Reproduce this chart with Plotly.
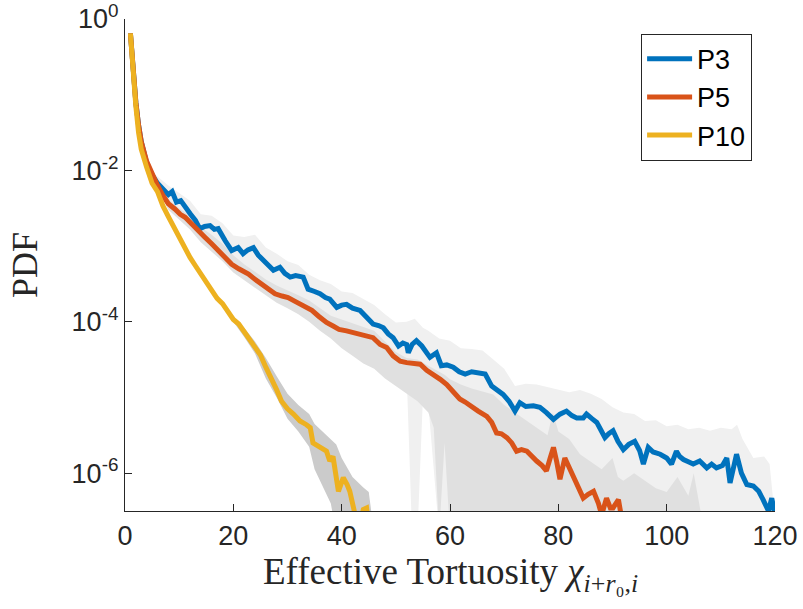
import numpy as np
import plotly.graph_objects as go

# ---------------- data (PDF given as log10) ----------------
x_p3 = [1.0, 1.2, 1.5, 2.0, 2.5, 3.0, 4.0, 5.0, 6.0, 7.0, 8.0, 8.7, 9.5, 10.3, 11.2, 12.0, 13.0, 13.8,
        14.7, 15.7, 16.5, 17.2, 18.5, 19.7, 20.9, 21.8, 22.7, 23.7, 24.6, 25.5, 26.5, 27.4, 28.6, 29.5,
        30.5, 31.5, 32.9, 33.8, 35.0, 36.0, 37.0, 37.8, 39.1, 40.0, 40.9, 42.0, 43.4, 44.5, 45.8, 46.8,
        47.7, 48.6, 49.5, 50.5, 51.3, 52.0, 52.3, 53.0, 53.8, 54.8, 55.5, 56.3, 57.5, 58.4, 59.4, 60.6,
        61.7, 62.8, 64.0, 65.2, 66.5, 67.7, 68.7, 69.8, 70.9, 72.0, 72.9, 74.0, 75.4, 76.6, 77.8, 79.1,
        80.3, 81.5, 82.5, 83.4, 84.6, 85.2, 86.2, 87.1, 88.0, 88.6, 89.3, 90.1, 91.0, 92.0, 93.0, 94.1,
        95.0, 95.7, 96.6, 97.5, 98.8, 100.0, 100.9, 101.8, 102.4, 103.1, 104.0, 104.9, 106.1, 107.4,
        108.3, 109.2, 110.3, 111.1, 111.7, 112.3, 112.9, 113.8, 114.8, 116.0, 117.0, 117.8, 118.8,
        119.4, 120.0]
log_p3 = [-0.19, -0.38, -0.80, -1.10, -1.40, -1.62, -1.90, -2.06, -2.17, -2.24, -2.32, -2.28, -2.42,
          -2.40, -2.50, -2.57, -2.66, -2.77, -2.74, -2.73, -2.78, -2.77, -2.93, -3.06, -3.02, -3.10,
          -3.05, -3.02, -3.12, -3.19, -3.26, -3.32, -3.28, -3.36, -3.41, -3.39, -3.41, -3.57, -3.60,
          -3.63, -3.68, -3.70, -3.81, -3.78, -3.77, -3.82, -3.85, -3.94, -4.03, -4.05, -4.08, -4.16,
          -4.21, -4.32, -4.28, -4.30, -4.41, -4.30, -4.25, -4.32, -4.38, -4.47, -4.41, -4.58, -4.57,
          -4.60, -4.66, -4.69, -4.66, -4.68, -4.69, -4.85, -4.90, -4.96, -5.05, -5.18, -5.07, -5.12,
          -5.11, -5.13, -5.20, -5.29, -5.22, -5.18, -5.24, -5.27, -5.27, -5.22, -5.28, -5.33, -5.45,
          -5.53, -5.48, -5.44, -5.58, -5.69, -5.62, -5.58, -5.70, -5.88, -5.66, -5.72, -5.75, -5.80,
          -5.88, -5.71, -5.78, -5.82, -5.85, -5.88, -5.84, -5.93, -5.88, -5.93, -5.90, -5.80, -6.13,
          -5.95, -5.75, -6.00, -6.15, -6.17, -6.24, -6.35, -6.50, -6.33, -6.55]

x_p5 = [1.0, 1.2, 1.5, 2.0, 2.5, 3.0, 4.0, 5.0, 6.0, 7.0, 8.0, 9.2, 10.2, 11.1, 12.3, 13.5, 14.7, 16.0,
        17.0, 17.9, 19.7, 21.0, 22.8, 24.0, 25.2, 26.5, 27.7, 29.0, 30.1, 31.4, 32.6, 33.5, 34.5, 35.8,
        37.2, 38.5, 39.5, 40.9, 42.2, 43.4, 44.6, 45.8, 47.1, 48.3, 49.5, 50.8, 52.0, 53.3, 54.5, 55.7,
        56.9, 58.2, 59.4, 60.6, 61.8, 62.8, 63.7, 65.2, 66.8, 67.7, 68.6, 69.5, 70.5, 71.4, 72.3, 73.2,
        74.2, 75.1, 76.0, 77.0, 77.8, 78.5, 79.1, 79.7, 80.3, 81.2, 81.8, 82.4, 83.5, 84.6, 85.5, 86.5,
        87.4, 88.0, 88.9, 89.6, 90.1, 91.1, 91.7]
log_p5 = [-0.19, -0.38, -0.80, -1.10, -1.40, -1.62, -1.88, -2.06, -2.20, -2.33, -2.44, -2.51, -2.58,
          -2.62, -2.70, -2.79, -2.88, -2.97, -3.04, -3.10, -3.24, -3.30, -3.37, -3.44, -3.50, -3.57,
          -3.63, -3.66, -3.68, -3.73, -3.77, -3.80, -3.85, -3.93, -4.01, -4.06, -4.10, -4.12, -4.14,
          -4.16, -4.19, -4.21, -4.30, -4.34, -4.45, -4.52, -4.54, -4.55, -4.56, -4.64, -4.69, -4.76,
          -4.83, -4.93, -5.02, -5.06, -5.11, -5.18, -5.25, -5.33, -5.47, -5.48, -5.53, -5.60, -5.71,
          -5.69, -5.71, -5.78, -5.84, -5.90, -5.97, -5.80, -5.66, -5.85, -6.08, -5.80, -5.90, -5.97,
          -6.15, -6.33, -6.28, -6.24, -6.40, -6.55, -6.33, -6.46, -6.46, -6.35, -6.60]

x_p10 = [1.0, 1.2, 1.5, 2.0, 2.5, 3.0, 4.0, 5.0, 6.0, 7.0, 8.0, 9.0, 10.0, 11.0, 12.0, 13.0, 14.0, 15.0,
         16.0, 17.0, 18.0, 19.0, 20.0, 21.0, 22.0, 23.0, 24.0, 25.0, 26.0, 27.0, 28.0, 28.9, 30.0, 31.1,
         32.3, 33.5, 34.2, 34.7, 35.5, 36.3, 37.2, 37.8, 38.4, 39.4, 40.3, 41.0, 41.5, 42.2, 42.8, 43.6,
         44.0, 44.6, 45.0]
log_p10 = [-0.19, -0.40, -0.83, -1.15, -1.50, -1.72, -1.96, -2.17, -2.28, -2.47, -2.61, -2.75, -2.87,
           -3.00, -3.15, -3.26, -3.37, -3.48, -3.58, -3.69, -3.76, -3.86, -3.97, -4.03, -4.13, -4.22,
           -4.32, -4.44, -4.60, -4.74, -4.90, -5.05, -5.15, -5.22, -5.31, -5.36, -5.40, -5.60, -5.64,
           -5.66, -5.71, -5.84, -5.78, -6.24, -6.06, -6.15, -6.24, -6.46, -6.65, -6.60, -6.48, -6.46,
           -6.70]

# spread bands (upper / lower envelopes, log10)
band_x_p3 = [5, 8, 10, 12, 14, 16, 18, 20, 22, 24, 26, 28, 30, 32, 34, 36, 38, 40, 42, 44, 46, 48, 50,
             52, 53, 53.5, 54, 55, 56, 58, 60, 62, 64, 66, 68, 70, 72, 74, 76, 78, 80, 82, 84, 86, 88,
             90, 92, 94, 96, 98, 100, 102, 104, 106, 108, 110, 112, 113, 114, 116, 118, 119, 120]
band_hi_p3 = [-2.02, -2.20, -2.30, -2.40, -2.58, -2.60, -2.70, -2.86, -2.88, -2.85, -3.02, -3.10, -3.20,
              -3.25, -3.38, -3.45, -3.50, -3.60, -3.62, -3.70, -3.78, -3.90, -4.01, -4.00, -3.97, -3.96,
              -4.00, -4.08, -4.12, -4.22, -4.25, -4.35, -4.36, -4.38, -4.50, -4.62, -4.85, -4.82, -4.83,
              -4.86, -4.90, -4.93, -4.90, -4.95, -5.02, -5.13, -5.20, -5.22, -5.31, -5.30, -5.38, -5.36,
              -5.42, -5.40, -5.44, -5.40, -5.42, -5.36, -5.55, -5.80, -5.78, -5.88, -6.60]
band_lo_p3 = [-2.10, -2.42, -2.55, -2.70, -2.85, -2.95, -3.10, -3.22, -3.30, -3.38, -3.48, -3.55, -3.62,
              -3.70, -3.80, -3.90, -3.98, -4.05, -4.10, -4.20, -4.35, -4.45, -4.55, -4.70, -6.80, -6.80,
              -6.80, -5.00, -5.10, -6.80, -6.80, -6.80, -6.80, -6.80, -6.80, -6.80, -6.80, -6.80, -6.80,
              -6.80, -6.80, -6.80, -6.80, -6.80, -6.80, -6.80, -6.80, -6.80, -6.80, -6.80, -6.80, -6.80,
              -6.80, -6.80, -6.80, -6.80, -6.80, -6.80, -6.80, -6.80, -6.80, -6.80, -6.80]

band_x_p5 = [5, 8, 10, 12, 14, 16, 18, 20, 22, 24, 26, 28, 30, 32, 34, 36, 38, 40, 42, 44, 46, 48, 50,
             52, 54, 56, 57, 58, 59, 60, 62, 64, 66, 68, 70, 72, 74, 76, 78, 79, 80, 82, 84, 86, 88, 90,
             91, 92, 94, 96, 98, 100, 102, 104, 105, 106, 107]
band_hi_p5 = [-2.05, -2.38, -2.50, -2.60, -2.75, -2.85, -2.97, -3.12, -3.24, -3.34, -3.44, -3.52, -3.58,
              -3.65, -3.72, -3.82, -3.92, -3.97, -4.02, -4.07, -4.12, -4.26, -4.40, -4.48, -4.50, -4.58,
              -4.62, -4.66, -4.70, -4.76, -4.83, -4.88, -4.92, -4.96, -5.10, -5.20, -5.30, -5.40, -5.50,
              -5.20, -5.45, -5.55, -5.75, -5.85, -5.95, -5.80, -6.05, -6.10, -6.00, -6.10, -6.20, -6.25,
              -6.05, -6.30, -6.00, -6.40, -6.80]
band_lo_p5 = [-2.10, -2.52, -2.65, -2.78, -2.95, -3.07, -3.20, -3.35, -3.45, -3.55, -3.65, -3.75, -3.82,
              -3.90, -4.00, -4.12, -4.22, -4.35, -4.45, -4.55, -4.62, -4.75, -4.85, -4.95, -5.05, -5.20,
              -5.40, -6.80, -5.60, -6.80, -6.80, -6.80, -6.80, -6.80, -6.80, -6.80, -6.80, -6.80, -6.80,
              -6.80, -6.80, -6.80, -6.80, -6.80, -6.80, -6.80, -6.80, -6.80, -6.80, -6.80, -6.80, -6.80,
              -6.80, -6.80, -6.80, -6.80, -6.80]

band_x_p10 = [20, 22, 24, 26, 28, 30, 32, 34, 35, 36, 38, 39, 40, 42, 44, 45, 46]
band_hi_p10 = [-3.94, -4.08, -4.26, -4.48, -4.72, -4.95, -5.10, -5.22, -5.35, -5.42, -5.55, -5.62, -5.80,
               -6.05, -6.19, -6.25, -6.80]
band_lo_p10 = [-4.00, -4.20, -4.42, -4.75, -5.00, -5.28, -5.45, -5.65, -5.95, -6.10, -6.40, -6.80, -6.80,
               -6.80, -6.80, -6.80, -6.80]

series_names = ["P3", "P5", "P10"]
x_tick_vals = [0, 20, 40, 60, 80, 100, 120]
y_tick_vals = [1e0, 1e-2, 1e-4, 1e-6]
y_tick_text = ["10<sup>0</sup>", "10<sup>-2</sup>", "10<sup>-4</sup>", "10<sup>-6</sup>"]

# ---------------- figure ----------------
AX = "#262626"
line_colors = ["#0072BD", "#D95319", "#EDB120"]
band_colors = ["#f0f0f0", "#e0e0e0", "#cbcbcb"]

def pw(v):
    return np.power(10.0, np.asarray(v, dtype=float))

fig = go.Figure()

bands = [(band_x_p3, band_hi_p3, band_lo_p3),
         (band_x_p5, band_hi_p5, band_lo_p5),
         (band_x_p10, band_hi_p10, band_lo_p10)]
for (bx, hi, lo), col in zip(bands, band_colors):
    fig.add_trace(go.Scatter(
        x=list(bx) + list(bx)[::-1],
        y=list(pw(hi)) + list(pw(lo))[::-1],
        fill="toself", fillcolor=col, mode="lines", line=dict(width=0, color=col),
        hoverinfo="skip", showlegend=False))

lines = [(x_p3, log_p3), (x_p5, log_p5), (x_p10, log_p10)]
for (lx, ly), name, col in zip(lines, series_names, line_colors):
    fig.add_trace(go.Scatter(
        x=lx, y=pw(ly), mode="lines", name=name,
        line=dict(color=col, width=5)))

fig.update_layout(
    width=803, height=609,
    margin=dict(l=125, r=28, t=19, b=98, autoexpand=False),
    paper_bgcolor="white", plot_bgcolor="white",
    font=dict(family="Liberation Sans, Arial, sans-serif", color=AX),
    showlegend=True,
    legend=dict(x=0.794, y=0.97, xanchor="left", yanchor="top",
                bgcolor="white", bordercolor=AX, borderwidth=1,
                font=dict(size=27, color="black"), itemwidth=45,
                tracegroupgap=0),
    xaxis=dict(range=[0, 120], tickvals=x_tick_vals, ticks="inside", ticklen=7,
               tickcolor=AX, showline=True, linecolor=AX, linewidth=1.3, automargin=False,
               showgrid=False, zeroline=False, tickfont=dict(size=27, color=AX)),
    yaxis=dict(type="log", range=[-6.5, 0], tickvals=y_tick_vals, ticktext=y_tick_text,
               ticks="inside", ticklen=7, tickcolor=AX, showline=True, linecolor=AX,
               linewidth=1.3, showgrid=False, zeroline=False, automargin=False,
               tickfont=dict(size=27, color=AX)),
    annotations=[
        dict(text="PDF", xref="paper", yref="paper", x=-0.1538, y=0.5,
             xanchor="center", yanchor="middle", textangle=-90, showarrow=False,
             font=dict(family="Liberation Serif, Times New Roman, serif", size=36, color=AX)),
        dict(text="Effective Tortuosity <i>χ</i><sub><i>i</i>+<i>r</i>₀,<i>i</i></sub>",
             xref="paper", yref="paper", x=0.5, y=-0.13, xanchor="center", yanchor="middle",
             showarrow=False,
             font=dict(family="Liberation Serif, Times New Roman, serif", size=37, color=AX)),
    ],
)

fig.write_html("out.html")
